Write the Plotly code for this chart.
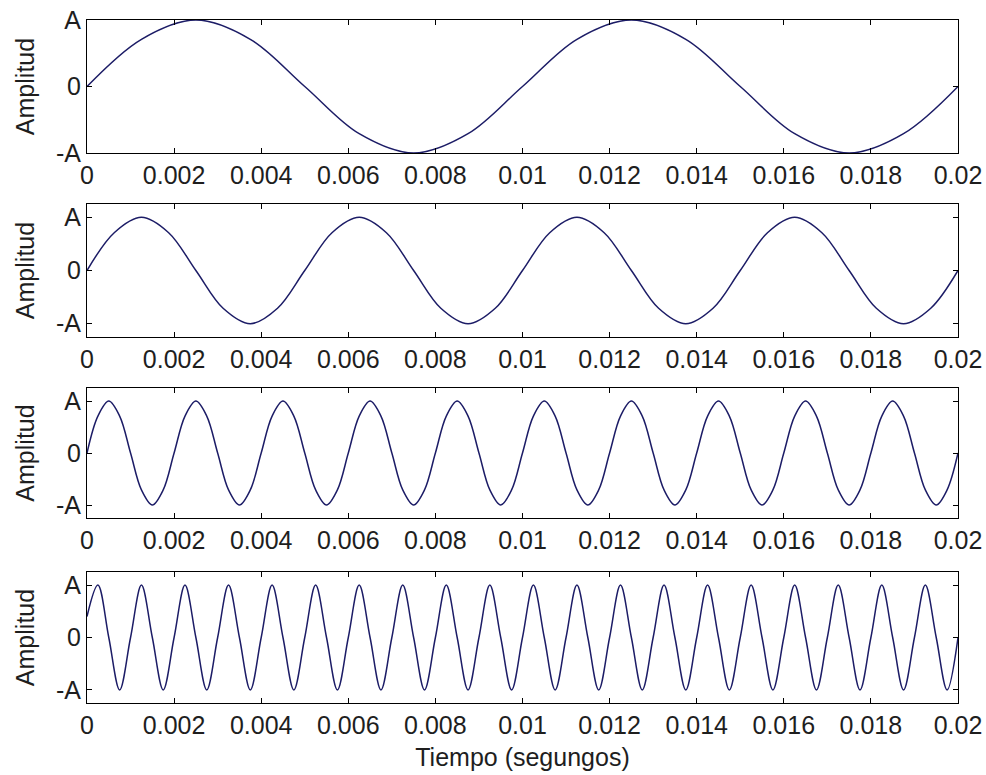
import plotly.graph_objects as go

# ---- data (sample times in seconds, amplitude in units of A) ----
t1 = [0.0, 0.00125, 0.0025, 0.00375, 0.005, 0.00625, 0.0075, 0.00875, 0.01,
      0.01125, 0.0125, 0.01375, 0.015, 0.01625, 0.0175, 0.01875, 0.02]
y1 = [0, 0.71, 1, 0.71, 0, -0.71, -1, -0.71, 0, 0.71, 1, 0.71, 0, -0.71, -1, -0.71, 0]

t2 = [0.0, 0.000625, 0.00125, 0.001875, 0.0025, 0.003125, 0.00375, 0.004375, 0.005,
      0.005625, 0.00625, 0.006875, 0.0075, 0.008125, 0.00875, 0.009375, 0.01,
      0.010625, 0.01125, 0.011875, 0.0125, 0.013125, 0.01375, 0.014375, 0.015,
      0.015625, 0.01625, 0.016875, 0.0175, 0.018125, 0.01875, 0.019375, 0.02]
y2 = [0, 0.71, 1, 0.71, 0, -0.71, -1, -0.71,
      0, 0.71, 1, 0.71, 0, -0.71, -1, -0.71,
      0, 0.71, 1, 0.71, 0, -0.71, -1, -0.71,
      0, 0.71, 1, 0.71, 0, -0.71, -1, -0.71, 0]

t3 = [0.0, 0.00025, 0.0005, 0.00075, 0.001, 0.00125, 0.0015, 0.00175, 0.002,
      0.00225, 0.0025, 0.00275, 0.003, 0.00325, 0.0035, 0.00375, 0.004,
      0.00425, 0.0045, 0.00475, 0.005, 0.00525, 0.0055, 0.00575, 0.006,
      0.00625, 0.0065, 0.00675, 0.007, 0.00725, 0.0075, 0.00775, 0.008,
      0.00825, 0.0085, 0.00875, 0.009, 0.00925, 0.0095, 0.00975, 0.01,
      0.01025, 0.0105, 0.01075, 0.011, 0.01125, 0.0115, 0.01175, 0.012,
      0.01225, 0.0125, 0.01275, 0.013, 0.01325, 0.0135, 0.01375, 0.014,
      0.01425, 0.0145, 0.01475, 0.015, 0.01525, 0.0155, 0.01575, 0.016,
      0.01625, 0.0165, 0.01675, 0.017, 0.01725, 0.0175, 0.01775, 0.018,
      0.01825, 0.0185, 0.01875, 0.019, 0.01925, 0.0195, 0.01975, 0.02]
y3 = [0, 0.71, 1, 0.71, 0, -0.71, -1, -0.71,
      0, 0.71, 1, 0.71, 0, -0.71, -1, -0.71,
      0, 0.71, 1, 0.71, 0, -0.71, -1, -0.71,
      0, 0.71, 1, 0.71, 0, -0.71, -1, -0.71,
      0, 0.71, 1, 0.71, 0, -0.71, -1, -0.71,
      0, 0.71, 1, 0.71, 0, -0.71, -1, -0.71,
      0, 0.71, 1, 0.71, 0, -0.71, -1, -0.71,
      0, 0.71, 1, 0.71, 0, -0.71, -1, -0.71,
      0, 0.71, 1, 0.71, 0, -0.71, -1, -0.71,
      0, 0.71, 1, 0.71, 0, -0.71, -1, -0.71, 0]

t4 = t3
y4 = [0.4, 1, 0, -1, 0, 1, 0, -1, 0, 1, 0, -1, 0, 1, 0, -1, 0, 1, 0, -1,
      0, 1, 0, -1, 0, 1, 0, -1, 0, 1, 0, -1, 0, 1, 0, -1, 0, 1, 0, -1,
      0, 1, 0, -1, 0, 1, 0, -1, 0, 1, 0, -1, 0, 1, 0, -1, 0, 1, 0, -1,
      0, 1, 0, -1, 0, 1, 0, -1, 0, 1, 0, -1, 0, 1, 0, -1, 0, 1, 0, -1, 0]

x_tickvals = [0, 0.002, 0.004, 0.006, 0.008, 0.01, 0.012, 0.014, 0.016, 0.018, 0.02]
x_ticktext = ["0", "0.002", "0.004", "0.006", "0.008", "0.01", "0.012",
              "0.014", "0.016", "0.018", "0.02"]
y_tickvals = [-1, 0, 1]
y_ticktext = ["-A", "0", "A"]
y_title = "Amplitud"
x_title = "Tiempo (segungos)"

series = [(t1, y1), (t2, y2), (t3, y3), (t4, y4)]
y_ranges = [[-1, 1], [-1.25, 1.25], [-1.25, 1.25], [-1.25, 1.25]]

# ---- figure ----
W, H = 986, 775
ml, mr, mt, mb = 87, 28, 20, 72
ph = H - mt - mb
panels_px = [(20, 153), (204, 337), (388, 518), (572, 703)]  # top, bottom in pixels

fig = go.Figure()
FONT = "Liberation Sans, Arial, sans-serif"
LINE = "#1c1c66"
TXT = "#1e1e1e"
FS = 25

for i, ((t, y), (top, bot)) in enumerate(zip(series, panels_px)):
    n = "" if i == 0 else str(i + 1)
    fig.add_trace(go.Scatter(
        x=t, y=y, mode="lines",
        line=dict(color=LINE, width=1.5, shape="spline", smoothing=1.0),
        xaxis="x" + n, yaxis="y" + n, showlegend=False, hoverinfo="skip"))
    d0 = (H - mb - bot) / ph
    d1 = (H - mb - top) / ph
    common = dict(showline=True, linecolor="black", linewidth=1, mirror="ticks",
                  ticks="inside", ticklen=5, tickcolor="black", tickwidth=1,
                  showgrid=False, zeroline=False,
                  tickfont=dict(family=FONT, size=FS, color=TXT))
    xa = dict(common, domain=[0, 1], range=[0, 0.02], tickmode="array",
              tickvals=x_tickvals, ticktext=x_ticktext,
              anchor="y" + n)
    if i == 3:
        xa["title"] = dict(text=x_title, font=dict(family=FONT, size=FS, color=TXT),
                           standoff=10)
    ya = dict(common, domain=[max(0, d0), min(1, d1)], range=y_ranges[i],
              tickmode="array", tickvals=y_tickvals, ticktext=y_ticktext,
              anchor="x" + n,
              title=dict(text=y_title, font=dict(family=FONT, size=FS, color=TXT),
                         standoff=14))
    fig.layout["xaxis" + n] = xa
    fig.layout["yaxis" + n] = ya

fig.update_layout(
    width=W, height=H,
    margin=dict(l=ml, r=mr, t=mt, b=mb, autoexpand=False),
    paper_bgcolor="white", plot_bgcolor="white",
    font=dict(family=FONT, size=FS, color=TXT),
)

fig.write_html("out.html",
               config={"displayModeBar": False},
               post_script="document.body.style.margin='0';document.body.style.overflow='hidden';")
